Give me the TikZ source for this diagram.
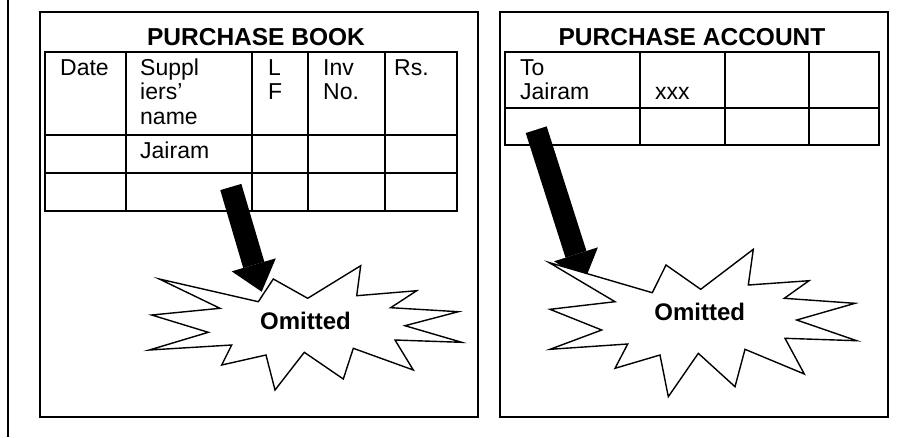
\documentclass[tikz,border=0pt]{standalone}
\usepackage{fontspec}
\setmainfont{Liberation Sans}
\usetikzlibrary{arrows.meta,positioning}
\definecolor{pbInk}{HTML}{000000}

\tikzset{
  frame/.style={draw=pbInk,line width=1.8pt},
  grid/.style={draw=pbInk,line width=1.6pt},
  cell/.style={anchor=base west,inner sep=0,align=left,
    font=\fontsize{23}{24.5}\selectfont},
  heading/.style={anchor=base,inner sep=0,
    font=\fontsize{24.5}{28}\selectfont\bfseries},
  burst/.style={draw=pbInk,fill=white,line width=1.4pt,line join=miter},
  burstlabel/.style={inner sep=0,font=\fontsize{24}{28}\selectfont\bfseries},
  pointer/.style={draw=pbInk,line width=22pt,
    -{Triangle[length=28pt,width=46pt,line width=0pt]}},
}

\begin{document}
\begin{tikzpicture}[x=1pt,y=-1pt]
  \useasboundingbox (0,0) rectangle (917,437);
  \draw[frame] (8,0) -- (8,437);

  % purchase book (multi-line cells sit on their last baseline)
  \draw[frame] (40,12) rectangle (478,417);
  \node[heading] (bookTitle) at (256,45) {PURCHASE BOOK};
  \draw[grid] (45,52) rectangle (457,211);
  \foreach \y in {135,173} \draw[grid] (45,\y) -- (457,\y);
  \foreach \x in {126,252,308,385} \draw[grid] (\x,52) -- (\x,211);
  \node[cell] (bookDate) at (60,75) {Date};
  \node[cell] (bookName) at (140,124) {Suppl\\iers’\\name};
  \node[cell] (bookLF)   at (268,99.5) {L\\F};
  \node[cell] (bookInv)  at (323,99.5) {Inv\\No.};
  \node[cell] (bookRs)   at (394,75) {Rs.};
  \node[cell] (bookJai)  at (140,158) {Jairam};

  \coordinate (bookFrom) at (230.8,187);
  \coordinate (bookTo)   at (261.7,291.7);
  \draw[pointer] (bookFrom) -- (bookTo);
  \draw[burst] (159.3,279) -- (258.3,301.7) -- (273.3,279) -- (307.7,298.3)
    -- (360.7,265.7) -- (356.7,295.7) -- (416.7,290.7) -- (390.7,307.7)
    -- (458.3,311.7) -- (405,325.7) -- (461.7,342.3) -- (395,340)
    -- (413.3,370) -- (353.3,348.3) -- (343.3,379) -- (304.3,352.3)
    -- (275,390) -- (266,355) -- (221.7,365) -- (231.7,345)
    -- (149.3,350) -- (208.3,332.3) -- (151.7,315) -- (220,308.3) -- cycle;
  \node[burstlabel] (bookOmit) at (305.5,321) {Omitted};

  % purchase account
  \draw[frame] (500,12) rectangle (888,417);
  \node[heading] (accTitle) at (692,45) {PURCHASE ACCOUNT};
  \draw[grid] (505,52) rectangle (879,145);
  \draw[grid] (505,108) -- (879,108);
  \foreach \x in {640,725,809} \draw[grid] (\x,52) -- (\x,145);
  \node[cell] (accTo)  at (520,99.5) {To\\Jairam};
  \node[cell] (accAmt) at (655,99.5) {xxx};

  \coordinate (accFrom) at (536.2,129.7);
  \coordinate (accTo)   at (584.5,281);
  \draw[pointer] (accFrom) -- (accTo);
  \draw[burst] (549,262.5) -- (652.3,292.7) -- (666,265) -- (700.7,289.3)
    -- (753.3,249.3) -- (748.3,285) -- (809,280.7) -- (784.3,298.3)
    -- (855,303.3) -- (796.7,320) -- (856.7,340.7) -- (785,338.3)
    -- (804.3,374) -- (745,349.3) -- (735,386.7) -- (698.3,353.3)
    -- (668.3,396.7) -- (660,355) -- (615,368.3) -- (627.7,344)
    -- (550,349.3) -- (601.7,330) -- (550,309.3) -- (615,301.7) -- cycle;
  \node[burstlabel] (accOmit) at (699.7,312) {Omitted};
\end{tikzpicture}
\end{document}
